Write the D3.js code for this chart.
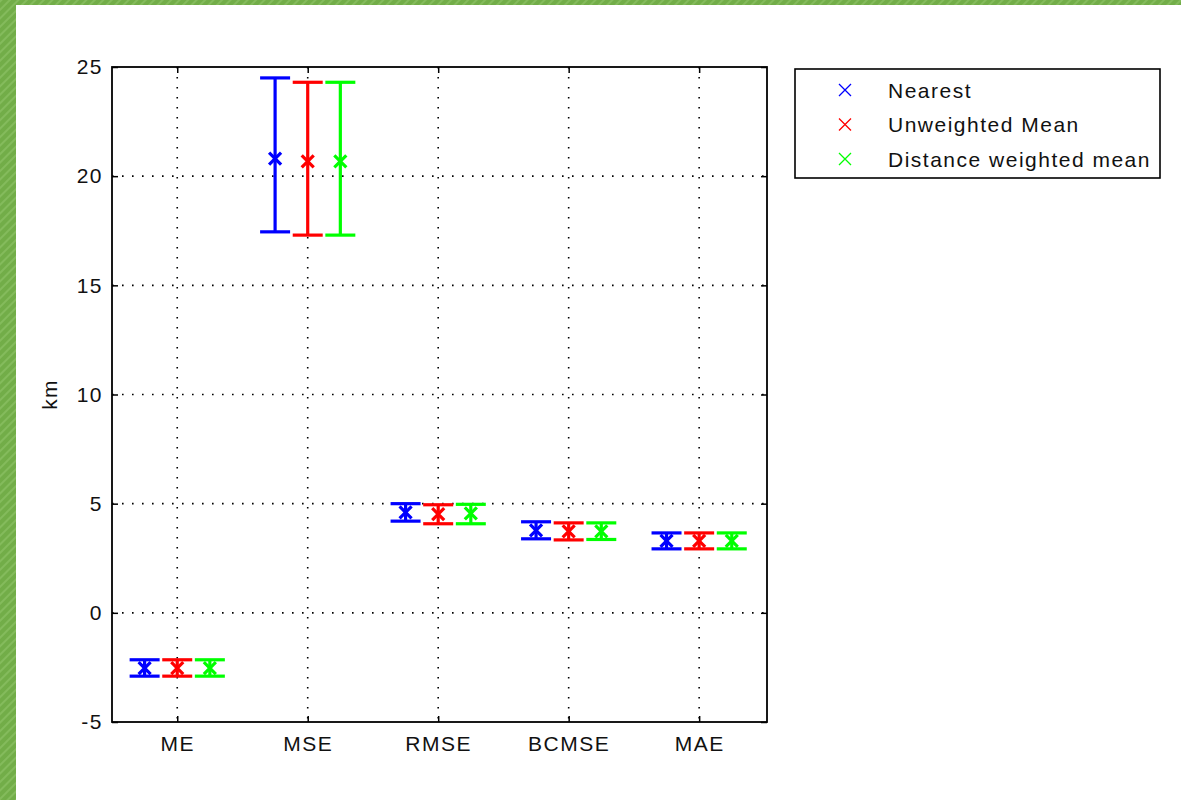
<!DOCTYPE html>
<html>
<head>
<meta charset="utf-8">
<script src="https://cdn.jsdelivr.net/npm/d3@7"></script>
<style>
  html, body { margin: 0; padding: 0; background: #fff; }
  svg { display: block; }
  text { font-family: "Liberation Sans", Arial, sans-serif; fill: #111; }
</style>
</head>
<body>
<svg id="chart" width="1181" height="800"></svg>
<script>
// Error statistics per method (km)
const categories = ["ME", "MSE", "RMSE", "BCMSE", "MAE"];
const seriesNames = ["Nearest", "Unweighted Mean", "Distance weighted mean"];

const nearestMean = [-2.53, 20.8, 4.6, 3.78, 3.3];
const nearestLow  = [-2.9, 17.45, 4.2, 3.39, 2.93];
const nearestHigh = [-2.15, 24.5, 5.0, 4.17, 3.66];

const unweightedMean = [-2.53, 20.68, 4.52, 3.73, 3.3];
const unweightedLow  = [-2.9, 17.3, 4.08, 3.34, 2.93];
const unweightedHigh = [-2.15, 24.3, 4.95, 4.12, 3.66];

const distanceMean = [-2.53, 20.68, 4.55, 3.73, 3.3];
const distanceLow  = [-2.9, 17.3, 4.08, 3.36, 2.93];
const distanceHigh = [-2.15, 24.3, 4.97, 4.12, 3.66];

const yTicks = [-5, 0, 5, 10, 15, 20, 25];
const yLabel = "km";

const seriesColors = ["#0000ff", "#ff0000", "#00ff00"];
const seriesOffsets = [-0.25, 0, 0.25];

const series = [
  { name: seriesNames[0], mean: nearestMean, low: nearestLow, high: nearestHigh },
  { name: seriesNames[1], mean: unweightedMean, low: unweightedLow, high: unweightedHigh },
  { name: seriesNames[2], mean: distanceMean, low: distanceLow, high: distanceHigh }
];

const svg = d3.select("#chart");

// Striped green frame along top and left edges
const defs = svg.append("defs");
const pat = defs.append("pattern")
  .attr("id", "stripes").attr("patternUnits", "userSpaceOnUse")
  .attr("width", 6).attr("height", 6)
  .attr("patternTransform", "rotate(45)");
pat.append("rect").attr("width", 6).attr("height", 6).attr("fill", "#72ad48");
pat.append("rect").attr("width", 2).attr("height", 6).attr("fill", "#84bb5c");
svg.append("rect").attr("x", 0).attr("y", 0).attr("width", 1181).attr("height", 5).attr("fill", "url(#stripes)");
svg.append("rect").attr("x", 0).attr("y", 0).attr("width", 16).attr("height", 800).attr("fill", "url(#stripes)");

const plot = { left: 112, right: 767, top: 67, bottom: 722 };

const x = d3.scaleLinear().domain([0.5, 5.52]).range([plot.left, plot.right]);
const y = d3.scaleLinear().domain([-5, 25]).range([plot.bottom, plot.top]);

const g = svg.append("g");
const catPos = categories.map((c, i) => i + 1);

// Dotted grid
g.selectAll("line.vgrid").data(catPos).join("line")
  .attr("x1", d => x(d)).attr("x2", d => x(d))
  .attr("y1", plot.top).attr("y2", plot.bottom)
  .attr("stroke", "#000").attr("stroke-width", 1.6)
  .attr("stroke-dasharray", "1.6,8.4");
g.selectAll("line.hgrid").data(yTicks.slice(1, -1)).join("line")
  .attr("x1", plot.left).attr("x2", plot.right)
  .attr("y1", d => y(d)).attr("y2", d => y(d))
  .attr("stroke", "#000").attr("stroke-width", 1.6)
  .attr("stroke-dasharray", "1.6,8.4");

// Axes with inward ticks on all four sides
const tickLen = 6;
const fontSize = 21;
const axisLeft = d3.axisLeft(y).tickValues(yTicks).tickSize(-tickLen).tickPadding(9).tickFormat(d => String(d));
const axisRight = d3.axisRight(y).tickValues(yTicks).tickSize(-tickLen).tickFormat("");
const axisBottom = d3.axisBottom(x).tickValues(catPos).tickSize(-tickLen).tickPadding(14).tickFormat((d, i) => categories[i]);
const axisTop = d3.axisTop(x).tickValues(catPos).tickSize(-tickLen).tickFormat("");

function styleAxis(sel) {
  sel.select(".domain").remove();
  sel.selectAll(".tick line").attr("stroke", "#000").attr("stroke-width", 1.5);
  sel.selectAll(".tick text").attr("font-size", fontSize).attr("letter-spacing", "1.5px")
    .attr("font-family", "'Liberation Sans', Arial, sans-serif").attr("fill", "#111");
}
g.append("g").attr("transform", `translate(${plot.left},0)`).call(axisLeft).call(styleAxis);
g.append("g").attr("transform", `translate(${plot.right},0)`).call(axisRight).call(styleAxis);
g.append("g").attr("transform", `translate(0,${plot.bottom})`).call(axisBottom).call(styleAxis);
g.append("g").attr("transform", `translate(0,${plot.top})`).call(axisTop).call(styleAxis);

g.append("rect")
  .attr("x", plot.left).attr("y", plot.top)
  .attr("width", plot.right - plot.left).attr("height", plot.bottom - plot.top)
  .attr("fill", "none").attr("stroke", "#000").attr("stroke-width", 1.8);

g.append("text")
  .attr("transform", `translate(57,${(plot.top + plot.bottom) / 2}) rotate(-90)`)
  .attr("text-anchor", "middle")
  .attr("font-size", fontSize).attr("letter-spacing", "1.2px")
  .text(yLabel);

// Error bars with x markers
const capHalf = 15;
const markHalf = 6;
series.forEach((s, si) => {
  const col = seriesColors[si];
  const sg = g.append("g").attr("stroke", col).attr("stroke-width", 3.2).attr("fill", "none");
  const pts = categories.map((c, i) => ({
    cx: x(catPos[i] + seriesOffsets[si]),
    m: s.mean[i], lo: s.low[i], hi: s.high[i]
  }));
  sg.selectAll("line.stem").data(pts).join("line")
    .attr("x1", d => d.cx).attr("x2", d => d.cx)
    .attr("y1", d => y(d.lo)).attr("y2", d => y(d.hi));
  sg.selectAll("line.capLo").data(pts).join("line")
    .attr("x1", d => d.cx - capHalf).attr("x2", d => d.cx + capHalf)
    .attr("y1", d => y(d.lo)).attr("y2", d => y(d.lo));
  sg.selectAll("line.capHi").data(pts).join("line")
    .attr("x1", d => d.cx - capHalf).attr("x2", d => d.cx + capHalf)
    .attr("y1", d => y(d.hi)).attr("y2", d => y(d.hi));
  sg.selectAll("path.mark").data(pts).join("path")
    .attr("d", d => {
      const cy = y(d.m);
      return `M${d.cx - markHalf},${cy - markHalf}L${d.cx + markHalf},${cy + markHalf}` +
             `M${d.cx - markHalf},${cy + markHalf}L${d.cx + markHalf},${cy - markHalf}`;
    });
});

// Legend
const lg = svg.append("g");
lg.append("rect")
  .attr("x", 795).attr("y", 69).attr("width", 365).attr("height", 109)
  .attr("fill", "#fff").attr("stroke", "#000").attr("stroke-width", 1.6);
seriesNames.forEach((name, i) => {
  const cy = 90 + i * 34.5;
  lg.append("path")
    .attr("d", `M839,${cy - 6}L851,${cy + 6}M839,${cy + 6}L851,${cy - 6}`)
    .attr("stroke", seriesColors[i]).attr("stroke-width", 1.3).attr("fill", "none");
  lg.append("text")
    .attr("x", 888).attr("y", cy + 7.5)
    .attr("font-size", fontSize).attr("letter-spacing", "1.5px")
    .text(name);
});
</script>
</body>
</html>
